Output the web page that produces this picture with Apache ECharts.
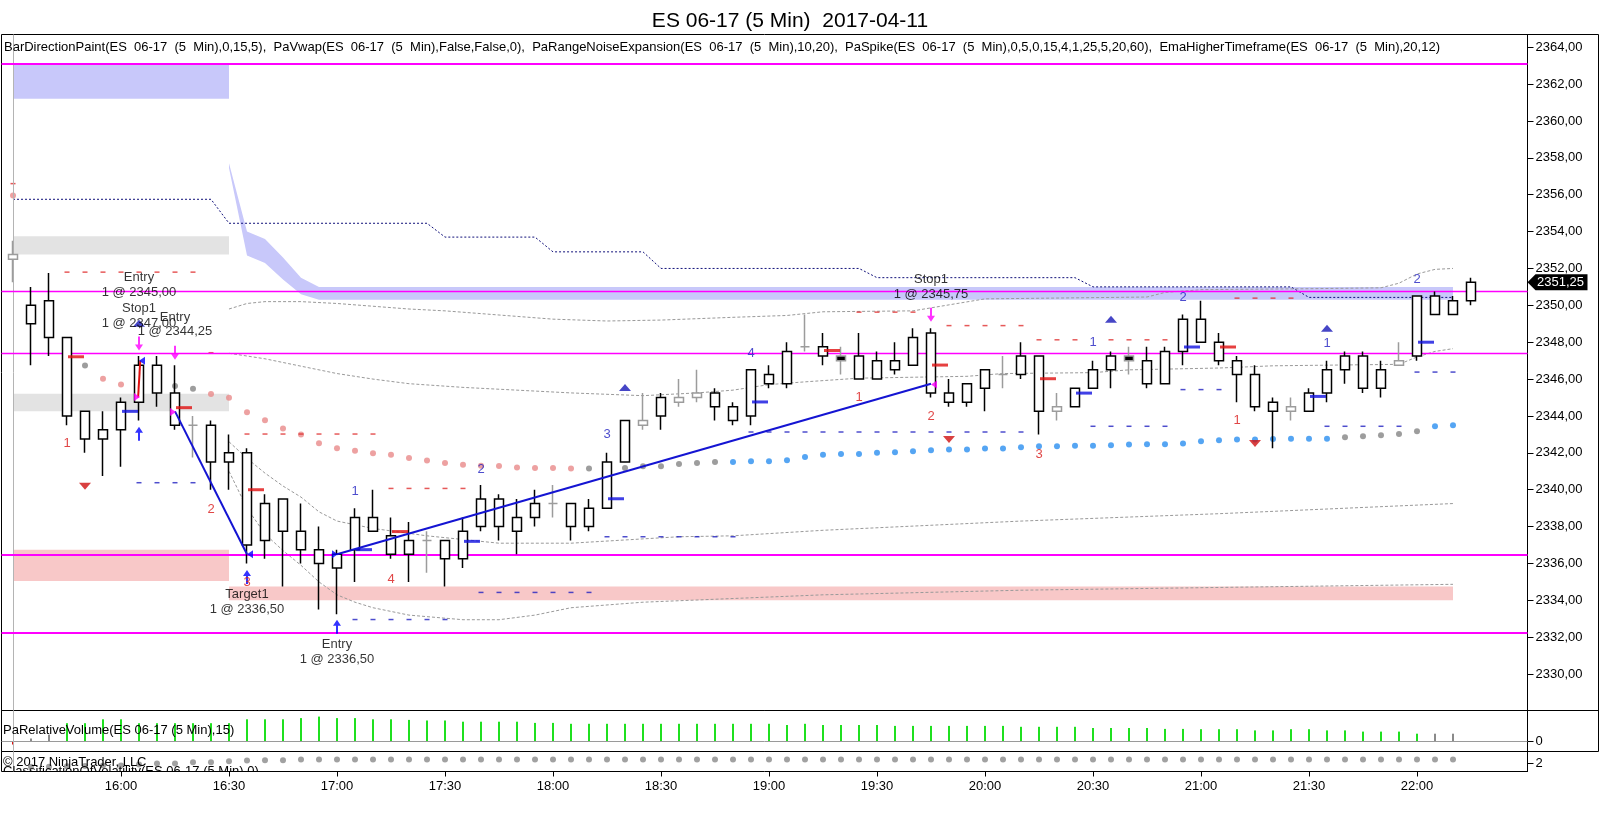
<!DOCTYPE html>
<html><head><meta charset="utf-8">
<script src="https://cdn.jsdelivr.net/npm/echarts@6/dist/echarts.min.js"></script>
<style>html,body{margin:0;padding:0;background:#fff}#c{width:1600px;height:828px}</style>
</head><body><div id="c"></div>
<script>
const FONT = '"Liberation Sans", Arial, sans-serif';

// ---------- DATA ----------
const titleText = 'ES 06-17 (5 Min)  2017-04-11';
const legendText = 'BarDirectionPaint(ES  06-17  (5  Min),0,15,5),  PaVwap(ES  06-17  (5  Min),False,False,0),  PaRangeNoiseExpansion(ES  06-17  (5  Min),10,20),  PaSpike(ES  06-17  (5  Min),0,5,0,15,4,1,25,5,20,60),  EmaHigherTimeframe(ES  06-17  (5  Min),20,12)';
const volTitle = 'PaRelativeVolume(ES 06-17 (5 Min),15)';
const copyText = '\u00a9 2017 NinjaTrader, LLC';
const clsTitle = 'ClassificationOfVolatility(ES 06-17 (5 Min),0)';

const timeTickIdx = [6,12,18,24,30,36,42,48,54,60,66,72,78];
const timeLabels = ['16:00','16:30','17:00','17:30','18:00','18:30','19:00','19:30','20:00','20:30','21:00','21:30','22:00'];
const priceTicks = [2330,2332,2334,2336,2338,2340,2342,2344,2346,2348,2350,2352,2354,2356,2358,2360,2362,2364];

// bar i = 15:30 + 5min*i ; [open, high, low, close]
const ohlc = [
 [2352.5,2353.5,2351.25,2352.75],
 [2349,2351,2346.75,2350],
 [2350.25,2351.75,2347.25,2348.25],
 [2348.25,2348.25,2343.5,2344],
 [2344.25,2344.25,2342,2342.75],
 [2342.75,2344.25,2340.75,2343.25],
 [2343.25,2345,2341.25,2344.75],
 [2344.75,2347.25,2343.75,2346.75],
 [2346.75,2347.25,2344.5,2345.25],
 [2345.25,2346.75,2343.25,2343.5],
 [2343.5,2344,2341.75,2343.5],
 [2343.5,2343.75,2340,2341.5],
 [2341.5,2343,2340,2342],
 [2342,2342.25,2336,2337],
 [2337.25,2339.75,2336.25,2339.25],
 [2339.5,2339.5,2334.75,2337.75],
 [2337.75,2339.25,2336,2336.75],
 [2336.75,2338,2333.5,2336],
 [2335.75,2336.75,2333.25,2336.5],
 [2336.75,2339,2335,2338.5],
 [2338.5,2340,2337.75,2337.75],
 [2337.5,2338.5,2336.25,2336.5],
 [2336.5,2338.25,2335,2337.25],
 [2337.25,2337.75,2335.5,2337.25],
 [2337.25,2337.25,2334.75,2336.25],
 [2336.25,2338.5,2335.75,2337.75],
 [2338,2340.25,2337.75,2339.5],
 [2339.5,2339.75,2337.25,2338],
 [2337.75,2339.5,2336.5,2338.5],
 [2338.5,2340,2338,2339.25],
 [2339.25,2340.25,2338.5,2339.25],
 [2339.25,2339.25,2337.25,2338],
 [2338,2339.5,2337.75,2339],
 [2339,2342,2339,2341.5],
 [2341.5,2343.75,2341.5,2343.75],
 [2343.5,2345.25,2343.25,2343.75],
 [2344,2345.25,2343.25,2345],
 [2344.75,2346,2344.5,2345],
 [2345,2346.5,2344.75,2345.25],
 [2345.25,2345.5,2343.75,2344.5],
 [2344.5,2344.75,2343.5,2343.75],
 [2344,2346.5,2343.5,2346.5],
 [2346.25,2346.75,2345.5,2345.75],
 [2345.75,2348,2345.5,2347.5],
 [2347.75,2349.5,2347.5,2347.75],
 [2347.75,2348.5,2346.75,2347.25],
 [2347.25,2347.75,2346.25,2347],
 [2347.25,2348.5,2346,2346],
 [2346,2347.5,2346,2347],
 [2347,2348,2346.25,2346.5],
 [2346.75,2348.75,2346.75,2348.25],
 [2348.5,2348.75,2345,2345.25],
 [2345.25,2346,2344.5,2344.75],
 [2344.75,2345.75,2344.5,2345.75],
 [2345.5,2346.5,2344.25,2346.5],
 [2346.25,2347.25,2345.5,2346.25],
 [2346.25,2348,2346,2347.25],
 [2347.25,2347.25,2343,2344.25],
 [2344.25,2345.25,2343.75,2344.5],
 [2344.5,2345.5,2344.5,2345.5],
 [2345.5,2347,2345.5,2346.5],
 [2346.5,2347.5,2345.5,2347.25],
 [2347.25,2347.75,2346.25,2347],
 [2347,2347.75,2345.5,2345.75],
 [2345.75,2347.75,2345.75,2347.5],
 [2347.5,2349.5,2346.75,2349.25],
 [2349.25,2350.25,2348,2348],
 [2348,2348.5,2346.75,2347],
 [2347,2347.25,2344.75,2346.25],
 [2346.25,2346.75,2344.25,2344.5],
 [2344.75,2345,2342.25,2344.25],
 [2344.25,2345,2343.75,2344.5],
 [2344.25,2345.5,2344.25,2345.25],
 [2345.25,2347,2344.75,2346.5],
 [2346.5,2347.5,2345.75,2347.25],
 [2347.25,2347.5,2345.25,2345.5],
 [2345.5,2347,2345,2346.5],
 [2346.75,2348,2346.75,2347],
 [2347.25,2350.5,2347,2350.5],
 [2350.5,2350.75,2349.5,2349.5],
 [2349.5,2350.5,2349.5,2350.25],
 [2350.25,2351.5,2350,2351.25]
];
const grayBars = [0,10,23,30,35,37,38,44,55,58,71,77];
const grayBlackBars = [46,62];

// EmaHigherTimeframe dots (index 0..80), colour code r=pink g=gray b=blue
const emaVals = [2355.95,2349.22,2349.25,2347.97,2346.74,2346.02,2345.71,2345.71,2345.71,2345.62,
 2345.48,2345.19,2344.99,2344.2,2343.77,2343.32,2343.0,2342.52,2342.25,2342.11,
 2341.98,2341.89,2341.72,2341.59,2341.45,2341.36,2341.3,2341.28,2341.2,2341.18,
 2341.18,2341.15,2341.15,2341.15,2341.18,2341.27,2341.27,2341.4,2341.45,2341.5,
 2341.51,2341.54,2341.54,2341.6,2341.78,2341.9,2341.94,2341.94,2342.0,2342.03,
 2342.09,2342.14,2342.18,2342.18,2342.23,2342.23,2342.3,2342.36,2342.36,2342.39,
 2342.39,2342.41,2342.45,2342.46,2342.47,2342.5,2342.63,2342.68,2342.72,2342.72,
 2342.75,2342.77,2342.77,2342.77,2342.84,2342.9,2342.95,2343.02,2343.17,2343.44,2343.49];
const emaCodes = 'rggggrrggggrrrrrrrrrrrrrrrrrrrrrggggggggbbbbbbbbbbbbbbbbbbbbbbbbbbbbbbbbbbgggggbb';

// PaVwap lines [barIndex, price]
const stepLine = [[0,2355.75],[11,2355.75],[12,2354.45],[23,2354.45],[24,2353.7],[29,2353.7],[30,2352.9],[35,2352.9],[36,2352.0],[47,2352.0],[48,2351.5],[59,2351.5],[60,2351.0],[71,2351.0],[72,2350.43],[80,2350.43]];
const bandA = [[12,2349.8],[13,2350.1],[14,2350.2],[16,2350.2],[18,2350.1],[20,2349.95],[22,2349.8],[24,2349.7],[26,2349.55],[28,2349.4],[30,2349.25],[33,2349.15],[36,2349.2],[40,2349.35],[43,2349.45],[45,2349.65],[50,2349.7],[54,2350.35],[63,2350.45],[64,2350.7],[66,2350.85],[72,2350.9],[76,2350.95],[77,2351.2],[78,2351.7],[79,2351.95],[80,2352.0]];
const bandB = [[12,2347.4],[14,2347.1],[16,2346.7],[18,2346.3],[20,2346.0],[22,2345.75],[25,2345.55],[28,2345.4],[31,2345.25],[35,2345.1],[38,2345.25],[40,2345.4],[42,2345.7],[44,2345.85],[47,2346.05],[53,2346.15],[55,2346.3],[60,2346.35],[62,2346.5],[67,2346.6],[70,2346.72],[77,2346.8],[78,2347.2],[79,2347.5],[80,2347.65]];
const bandC = [[12,2342.6],[13,2341.7],[14,2340.9],[15,2340.2],[16,2339.6],[17,2338.8],[18,2338.3],[20,2337.9],[23,2337.5],[27,2337.1],[31,2337.1],[37,2337.45],[40,2337.5],[45,2337.8],[56,2338.3],[67,2338.7],[80,2339.25]];
const bandD = [[12,2341.0],[13,2339.0],[14,2337.6],[15,2336.7],[16,2335.9],[17,2335.0],[18,2334.3],[19,2333.9],[20,2333.6],[22,2333.2],[25,2332.95],[27,2332.95],[29,2333.2],[31,2333.6],[35,2333.9],[40,2334.1],[45,2334.3],[56,2334.55],[67,2334.7],[80,2334.87]];
const vwapZoneUpper = [[12,2357.7],[13,2354.0],[14,2353.6],[15,2352.6],[16,2351.5],[17,2351.0],[80,2351.0]];
const vwapZoneLower = [[12,2357.45],[13,2352.7],[14,2352.3],[15,2351.4],[16,2350.6],[17,2350.3],[80,2350.3]];

// zones [fromBar, toBar, low, high, kind]
const zones = [[0,12,2361.2,2363.05,'blue'],[0,12,2352.75,2353.75,'gray'],[0,12,2344.25,2345.2,'gray'],[0,12,2335.05,2336.75,'pink'],[12,80,2334.0,2334.75,'pink']];
// horizontal magenta levels [price, width]
const levels = [[2363.1,2],[2350.75,1.4],[2347.39,1.4],[2336.5,2],[2332.25,2]];

// PaRangeNoiseExpansion dashes: [fromBar, toBar, price]
const redDashRuns = [[0,0,2356.6],[3,10,2351.8],[11,11,2347.43],[13,20,2343.02],[21,25,2340.07],[47,50,2349.63],[52,56,2348.9],[57,59,2348.13],[61,64,2348.13],[68,71,2350.39]];
const blueDashRuns = [[7,10,2340.38],[19,24,2332.96],[26,32,2334.43],[33,40,2337.45],[41,56,2343.13],[60,64,2343.44],[65,67,2345.43],[73,77,2343.44],[78,80,2346.38]];
// short horizontal ticks
const redTicks = [[3,2347.21],[9,2344.45],[13,2340.0],[21,2337.73],[45,2347.55],[51,2346.76],[57,2346.02],[67,2347.74]];
const blueTicks = [[6,2344.25],[19,2336.75],[25,2337.2],[33,2339.51],[41,2344.76],[59,2345.24],[65,2347.74],[72,2345.06],[78,2348.0]];
// count labels
const redNums = [[3,2342.5,'1'],[11,2338.92,'2'],[13,2334.95,'3'],[21,2335.16,'4'],[47,2345.01,'1'],[51,2343.98,'2'],[57,2341.94,'3'],[68,2343.75,'1']];
const blueNums = [[19,2339.93,'1'],[26,2341.1,'2'],[33,2342.99,'3'],[41,2347.41,'4'],[60,2347.99,'1'],[65,2350.44,'2'],[73,2347.95,'1'],[78,2351.38,'2']];
const redDownTri = [[4,2340.19],[52,2342.72],[69,2342.5]];
const blueUpTri = [[7,2349.03],[34,2345.55],[61,2349.25],[73,2348.76]];
// executions
const sellArrows = [[7,2347.93],[9,2347.43],[51,2349.49]];
const buyArrows = [[7,2343.04],[13,2335.27],[18,2332.57]];
const execMarks = [[7,2345.03,'m','r'],[7,2347.0,'b','l'],[9,2344.21,'m','r'],[13,2336.5,'b','l'],[18,2336.5,'b','r'],[51,2345.7,'m','l']];
const tradeLines = [[[9,2344.25],[13,2336.5],'#1414d2'],[[18,2336.5],[51,2345.75],'#1414d2'],[[6.95,2345.0],[7.07,2347.0],'#e01010']];
const execTexts = [[7,2351.1,'Entry\n1 @ 2345,00'],[7,2349.42,'Stop1\n1 @ 2347,00'],[9,2348.96,'Entry\n1 @ 2344,25'],[13,2333.92,'Target1\n1 @ 2336,50'],[18,2331.2,'Entry\n1 @ 2336,50'],[51,2351.0,'Stop1\n1 @ 2345,75']];

// lower panels
const relVol = [-0.1,0.1,0.23,0.61,0.61,0.74,0.74,0.61,0.61,0.61,
 0.61,0.61,0.61,0.74,0.74,0.74,0.78,0.83,0.78,0.78,
 0.74,0.74,0.72,0.70,0.70,0.66,0.66,0.66,0.66,0.62,
 0.62,0.59,0.59,0.59,0.59,0.59,0.59,0.59,0.59,0.59,
 0.59,0.59,0.59,0.55,0.59,0.55,0.55,0.55,0.55,0.52,
 0.52,0.52,0.52,0.52,0.52,0.52,0.49,0.49,0.49,0.49,
 0.45,0.45,0.45,0.45,0.42,0.42,0.41,0.41,0.41,0.37,
 0.37,0.41,0.41,0.37,0.37,0.33,0.33,0.33,0.26,0.26,0.26];
const volColorCodes = 'rgg' + 'G'.repeat(76) + 'gg';
const volaDots = [null,1.2,1.2,1.3,1.4,1.5,1.5,1.75,2.0,2.0,2.33,2.33,2.58,2.75,2.83,2.83,
 3,3,3,3,3,3,3,3,3,3,3,3,3,3,3,3,3,3,3,3,3,3,3,3,3,3,3,3,3,3,3,3,3,3,3,3,3,3,3,3,3,3,3,3,3,3,3,3,3,3,3,3,3,3,3,3,3,3,3,3,3,3,3,3,3];

// ---------- LAYOUT ----------
const GL = 1.5, GW = 1526;            // grid left / width
const X_MIN = -0.6389, X_MAX = 84.139; // bar index range of the plot width
const Y_MIN = 2328.027, Y_MAX = 2364.687;
const fmtP = v => v.toFixed(2).replace('.', ',');

const candleData = ohlc.map((b, i) => {
  let st = {color:'#ffffff', color0:'#000000', borderColor:'#000000', borderColor0:'#000000'};
  if (grayBars.includes(i)) st = {color:'#ffffff', color0:'#ffffff', borderColor:'#9c9c9c', borderColor0:'#9c9c9c'};
  if (grayBlackBars.includes(i)) st = {color:'#000000', color0:'#000000', borderColor:'#9c9c9c', borderColor0:'#9c9c9c'};
  return {value:[i, b[0], b[3], b[2], b[1]], itemStyle: st};
});
const emaColorMap = {r:'#e88a8a', g:'#858585', b:'#2b8ef0'};
const emaData = emaVals.map((v, i) => ({value:[i, v], itemStyle:{color: emaColorMap[emaCodes[i]]}}));
const expandRuns = runs => { const out = []; runs.forEach(r => { for (let i = r[0]; i <= r[1]; i++) out.push([i, r[2]]); }); return out; };
const zoneColor = {blue:'#c8c8fa', gray:'#e3e3e3', pink:'#f8c8c8'};
const volColorMap = {r:'#e01010', g:'#8a8a8a', G:'#1fe01f'};
const lastClose = ohlc[ohlc.length - 1][3];

function textSeries(data, color, extra) {
  return Object.assign({
    type:'scatter', xAxisIndex:0, yAxisIndex:0, symbolSize:0, silent:true, z:9,
    data: data,
    label:{show:true, position:'inside', formatter: p => p.data[2], color: color, fontSize:13, fontFamily: FONT, lineHeight:14.5}
  }, extra || {});
}

const series = [];
// zones + session line
series.push({
  type:'line', xAxisIndex:0, yAxisIndex:0, data:[[40,2340]], symbol:'none', lineStyle:{opacity:0}, silent:true, z:1,
  markArea:{silent:true, data: zones.map(z => [{xAxis:z[0], yAxis:z[2], itemStyle:{color: zoneColor[z[4]]}}, {xAxis:z[1], yAxis:z[3]}])},
  markLine:{silent:true, symbol:['none','none'], label:{show:false}, animation:false,
    data:[{xAxis:0, lineStyle:{color:'#b4b4b4', width:1, type:'solid'}}]}
});
// PaVwap band polygon
series.push({
  type:'custom', xAxisIndex:0, yAxisIndex:0, z:2, silent:true, clip:true,
  data:[[40,2350]],
  renderItem:(params, api) => {
    const pts = vwapZoneUpper.map(p => api.coord(p)).concat(vwapZoneLower.slice().reverse().map(p => api.coord(p)));
    return {type:'polygon', shape:{points:pts}, style:{fill:'#c8c8fa'}};
  }
});
// magenta levels (above zones/band)
series.push({
  type:'line', xAxisIndex:0, yAxisIndex:0, data:[[40,2340]], symbol:'none', lineStyle:{opacity:0}, silent:true, z:3,
  markLine:{silent:true, symbol:['none','none'], label:{show:false}, animation:false,
    data: levels.map(l => ({yAxis:l[0], lineStyle:{color:'#ff00ff', width:l[1], type:'solid', opacity:1}}))}
});
// lines
const lineS = (data, color, dash) => ({type:'line', xAxisIndex:0, yAxisIndex:0, data, symbol:'none', silent:true, z:3,
  lineStyle:{color, width:1, type: dash}});
series.push(lineS(stepLine, '#10107a', [2,2]));
[bandA, bandB, bandC, bandD].forEach(b => series.push(lineS(b, '#9a9a9a', [3,2])));
// dots & dashes
series.push({type:'scatter', xAxisIndex:0, yAxisIndex:0, symbolSize:6, data: emaData, silent:true, z:4});
series.push({type:'scatter', xAxisIndex:0, yAxisIndex:0, symbol:'rect', symbolSize:[5,1.5], data: expandRuns(redDashRuns), itemStyle:{color:'#e03030'}, silent:true, z:4});
series.push({type:'scatter', xAxisIndex:0, yAxisIndex:0, symbol:'rect', symbolSize:[5,1.5], data: expandRuns(blueDashRuns), itemStyle:{color:'#2020c0'}, silent:true, z:4});
// candles
series.push({
  type:'candlestick', xAxisIndex:0, yAxisIndex:0, barWidth:10, z:5, silent:true,
  dimensions:['i','open','close','low','high'],
  encode:{x:'i', y:['open','close','low','high']},
  itemStyle:{color:'#ffffff', color0:'#000000', borderColor:'#000000', borderColor0:'#000000', borderWidth:1.5},
  data: candleData,
  markPoint:{silent:true, animation:false, symbol:'path://M0,8L8,0L60,0L60,16L8,16Z', symbolSize:[60,16], symbolOffset:[30,0],
    symbolKeepAspect:false,
    itemStyle:{color:'#000000'},
    label:{show:true, color:'#ffffff', fontSize:13, fontFamily:FONT, offset:[3,0], formatter: () => fmtP(lastClose)},
    data:[{coord:[X_MAX, lastClose]}]}
});
// ticks
series.push({type:'scatter', xAxisIndex:0, yAxisIndex:0, symbol:'rect', symbolSize:[16,3], symbolOffset:[9,0], data: redTicks, itemStyle:{color:'#e01010'}, silent:true, z:6});
series.push({type:'scatter', xAxisIndex:0, yAxisIndex:0, symbol:'rect', symbolSize:[16,3], symbolOffset:[9,0], data: blueTicks, itemStyle:{color:'#1010e0'}, silent:true, z:6});
// trade lines
tradeLines.forEach(t => series.push({type:'line', xAxisIndex:0, yAxisIndex:0, data:[t[0], t[1]], symbol:'none', silent:true, z:7, lineStyle:{color:t[2], width:2}}));
// triangles
series.push({type:'scatter', xAxisIndex:0, yAxisIndex:0, symbol:'triangle', symbolSize:[12,7], symbolRotate:180, data: redDownTri, itemStyle:{color:'#d01010'}, silent:true, z:8});
series.push({type:'scatter', xAxisIndex:0, yAxisIndex:0, symbol:'triangle', symbolSize:[12,7], data: blueUpTri, itemStyle:{color:'#1818b8'}, silent:true, z:8});
// arrows
const arrowPath = 'path://M3,0L5,0L5,8L8,8L4,14L0,8L3,8Z';
series.push({type:'scatter', xAxisIndex:0, yAxisIndex:0, symbol:arrowPath, symbolSize:[8,14], data: sellArrows, itemStyle:{color:'#ff00ff'}, silent:true, z:8});
series.push({type:'scatter', xAxisIndex:0, yAxisIndex:0, symbol:arrowPath, symbolSize:[8,14], symbolRotate:180, data: buyArrows, itemStyle:{color:'#0000ff'}, silent:true, z:8});
series.push({type:'scatter', xAxisIndex:0, yAxisIndex:0, symbol:'triangle', symbolSize:[8,6], silent:true, z:8,
  data: execMarks.map(e => ({value:[e[0], e[1]], symbolRotate: e[3] === 'r' ? -90 : 90, symbolOffset:[e[3] === 'r' ? -2 : 3, 0],
    itemStyle:{color: e[2] === 'm' ? '#ff00ff' : '#0000ff'}}))});
// text labels
series.push(textSeries(redNums, '#d81818'));
series.push(textSeries(blueNums, '#2020c0'));
series.push(textSeries(execTexts, '#000000'));
// relative volume panel
series.push({type:'bar', xAxisIndex:1, yAxisIndex:1, barWidth:2, silent:true,
  data: relVol.map((v, i) => ({value:[i, v], itemStyle:{color: volColorMap[volColorCodes[i]]}})),
  markLine:{silent:true, symbol:['none','none'], label:{show:false}, animation:false,
    data:[{yAxis:0, lineStyle:{color:'#9a9a9a', width:1, type:'solid'}}, {xAxis:0, lineStyle:{color:'#b4b4b4', width:1, type:'solid'}}]}
});
// volatility classification panel
series.push({type:'scatter', xAxisIndex:2, yAxisIndex:2, symbolSize:6, silent:true,
  data: volaDots.map((v, i) => v == null ? null : [i, v]).filter(d => d),
  itemStyle:{color:'#8a8a8a'},
  markLine:{silent:true, symbol:['none','none'], label:{show:false}, animation:false,
    data:[{xAxis:0, lineStyle:{color:'#b4b4b4', width:1, type:'solid'}}]}
});
series.push({type:'custom', xAxisIndex:2, yAxisIndex:2, clip:true, silent:true, z:10, data:[[40,2]],
  renderItem:(params, api) => ({type:'text', x:3, y:771, style:{text: clsTitle, fill:'#000', font:'13px ' + FONT, verticalAlign:'middle', textVerticalAlign:'middle'}})
});

const xAxisBase = (gi) => ({type:'value', gridIndex:gi, min:X_MIN, max:X_MAX, axisLine:{show:false, onZero:false}, axisTick:{show:false}, axisLabel:{show:false}, splitLine:{show:false}, axisPointer:{show:false}});
const xAxes = [xAxisBase(0), xAxisBase(1), Object.assign(xAxisBase(2), {
  axisTick:{show:true, customValues: timeTickIdx, length:5, lineStyle:{color:'#000'}},
  axisLabel:{show:true, customValues: timeTickIdx, formatter: v => timeLabels[timeTickIdx.indexOf(Math.round(v))], color:'#000', fontSize:13, fontFamily:FONT, margin:8}
})];
const yAxisBase = (gi, min, max, vals, fmt) => ({type:'value', gridIndex:gi, position:'right', min, max,
  axisLine:{show:true, onZero:false, lineStyle:{color:'#000'}}, splitLine:{show:false}, axisPointer:{show:false},
  axisTick:{show:true, customValues: vals, length:6, lineStyle:{color:'#000'}},
  axisLabel:{show:true, customValues: vals, formatter: fmt, color:'#000', fontSize:13, fontFamily:FONT, margin:8}});

const option = {
  animation:false,
  backgroundColor:'#ffffff',
  title:{text: titleText, left: 785, top: 6, textAlign:'center', textStyle:{fontFamily:FONT, fontSize:21, fontWeight:'normal', color:'#000'}},
  grid:[
    {left:GL, width:GW, top:34.5, height:676, show:true, borderColor:'#000', borderWidth:1, backgroundColor:'transparent'},
    {left:GL, width:GW, top:710.5, height:41, show:true, borderColor:'#000', borderWidth:1, backgroundColor:'transparent'},
    {left:GL, width:GW, top:751.5, height:20, show:true, borderColor:'#000', borderWidth:1, backgroundColor:'transparent'}
  ],
  xAxis: xAxes,
  yAxis:[
    yAxisBase(0, Y_MIN, Y_MAX, priceTicks, v => fmtP(v)),
    yAxisBase(1, -0.333, 1.033, [0], v => '0'),
    yAxisBase(2, 0, 5, [2], v => '2')
  ],
  graphic:[
    {type:'text', x:4, y:47, z:50, style:{text: legendText, fill:'#000', font:'13px ' + FONT, verticalAlign:'middle', textVerticalAlign:'middle'}},
    {type:'text', x:3, y:730, z:50, style:{text: volTitle, fill:'#000', font:'13px ' + FONT, verticalAlign:'middle', textVerticalAlign:'middle'}},
    {type:'text', x:3, y:762, z:50, style:{text: copyText, fill:'#000', font:'13px ' + FONT, verticalAlign:'middle', textVerticalAlign:'middle'}},
    {type:'line', z:50, shape:{x1:1527.5, y1:34.5, x2:1598.5, y2:34.5}, style:{stroke:'#000', lineWidth:1}},
    {type:'line', z:50, shape:{x1:1527.5, y1:710.5, x2:1598.5, y2:710.5}, style:{stroke:'#000', lineWidth:1}},
    {type:'line', z:50, shape:{x1:1527.5, y1:751.5, x2:1598.5, y2:751.5}, style:{stroke:'#000', lineWidth:1}},
    {type:'line', z:50, shape:{x1:1598.5, y1:34.5, x2:1598.5, y2:751.5}, style:{stroke:'#000', lineWidth:1}}
  ],
  series
};
const chart = echarts.init(document.getElementById('c'));
chart.setOption(option);
</script></body></html>
